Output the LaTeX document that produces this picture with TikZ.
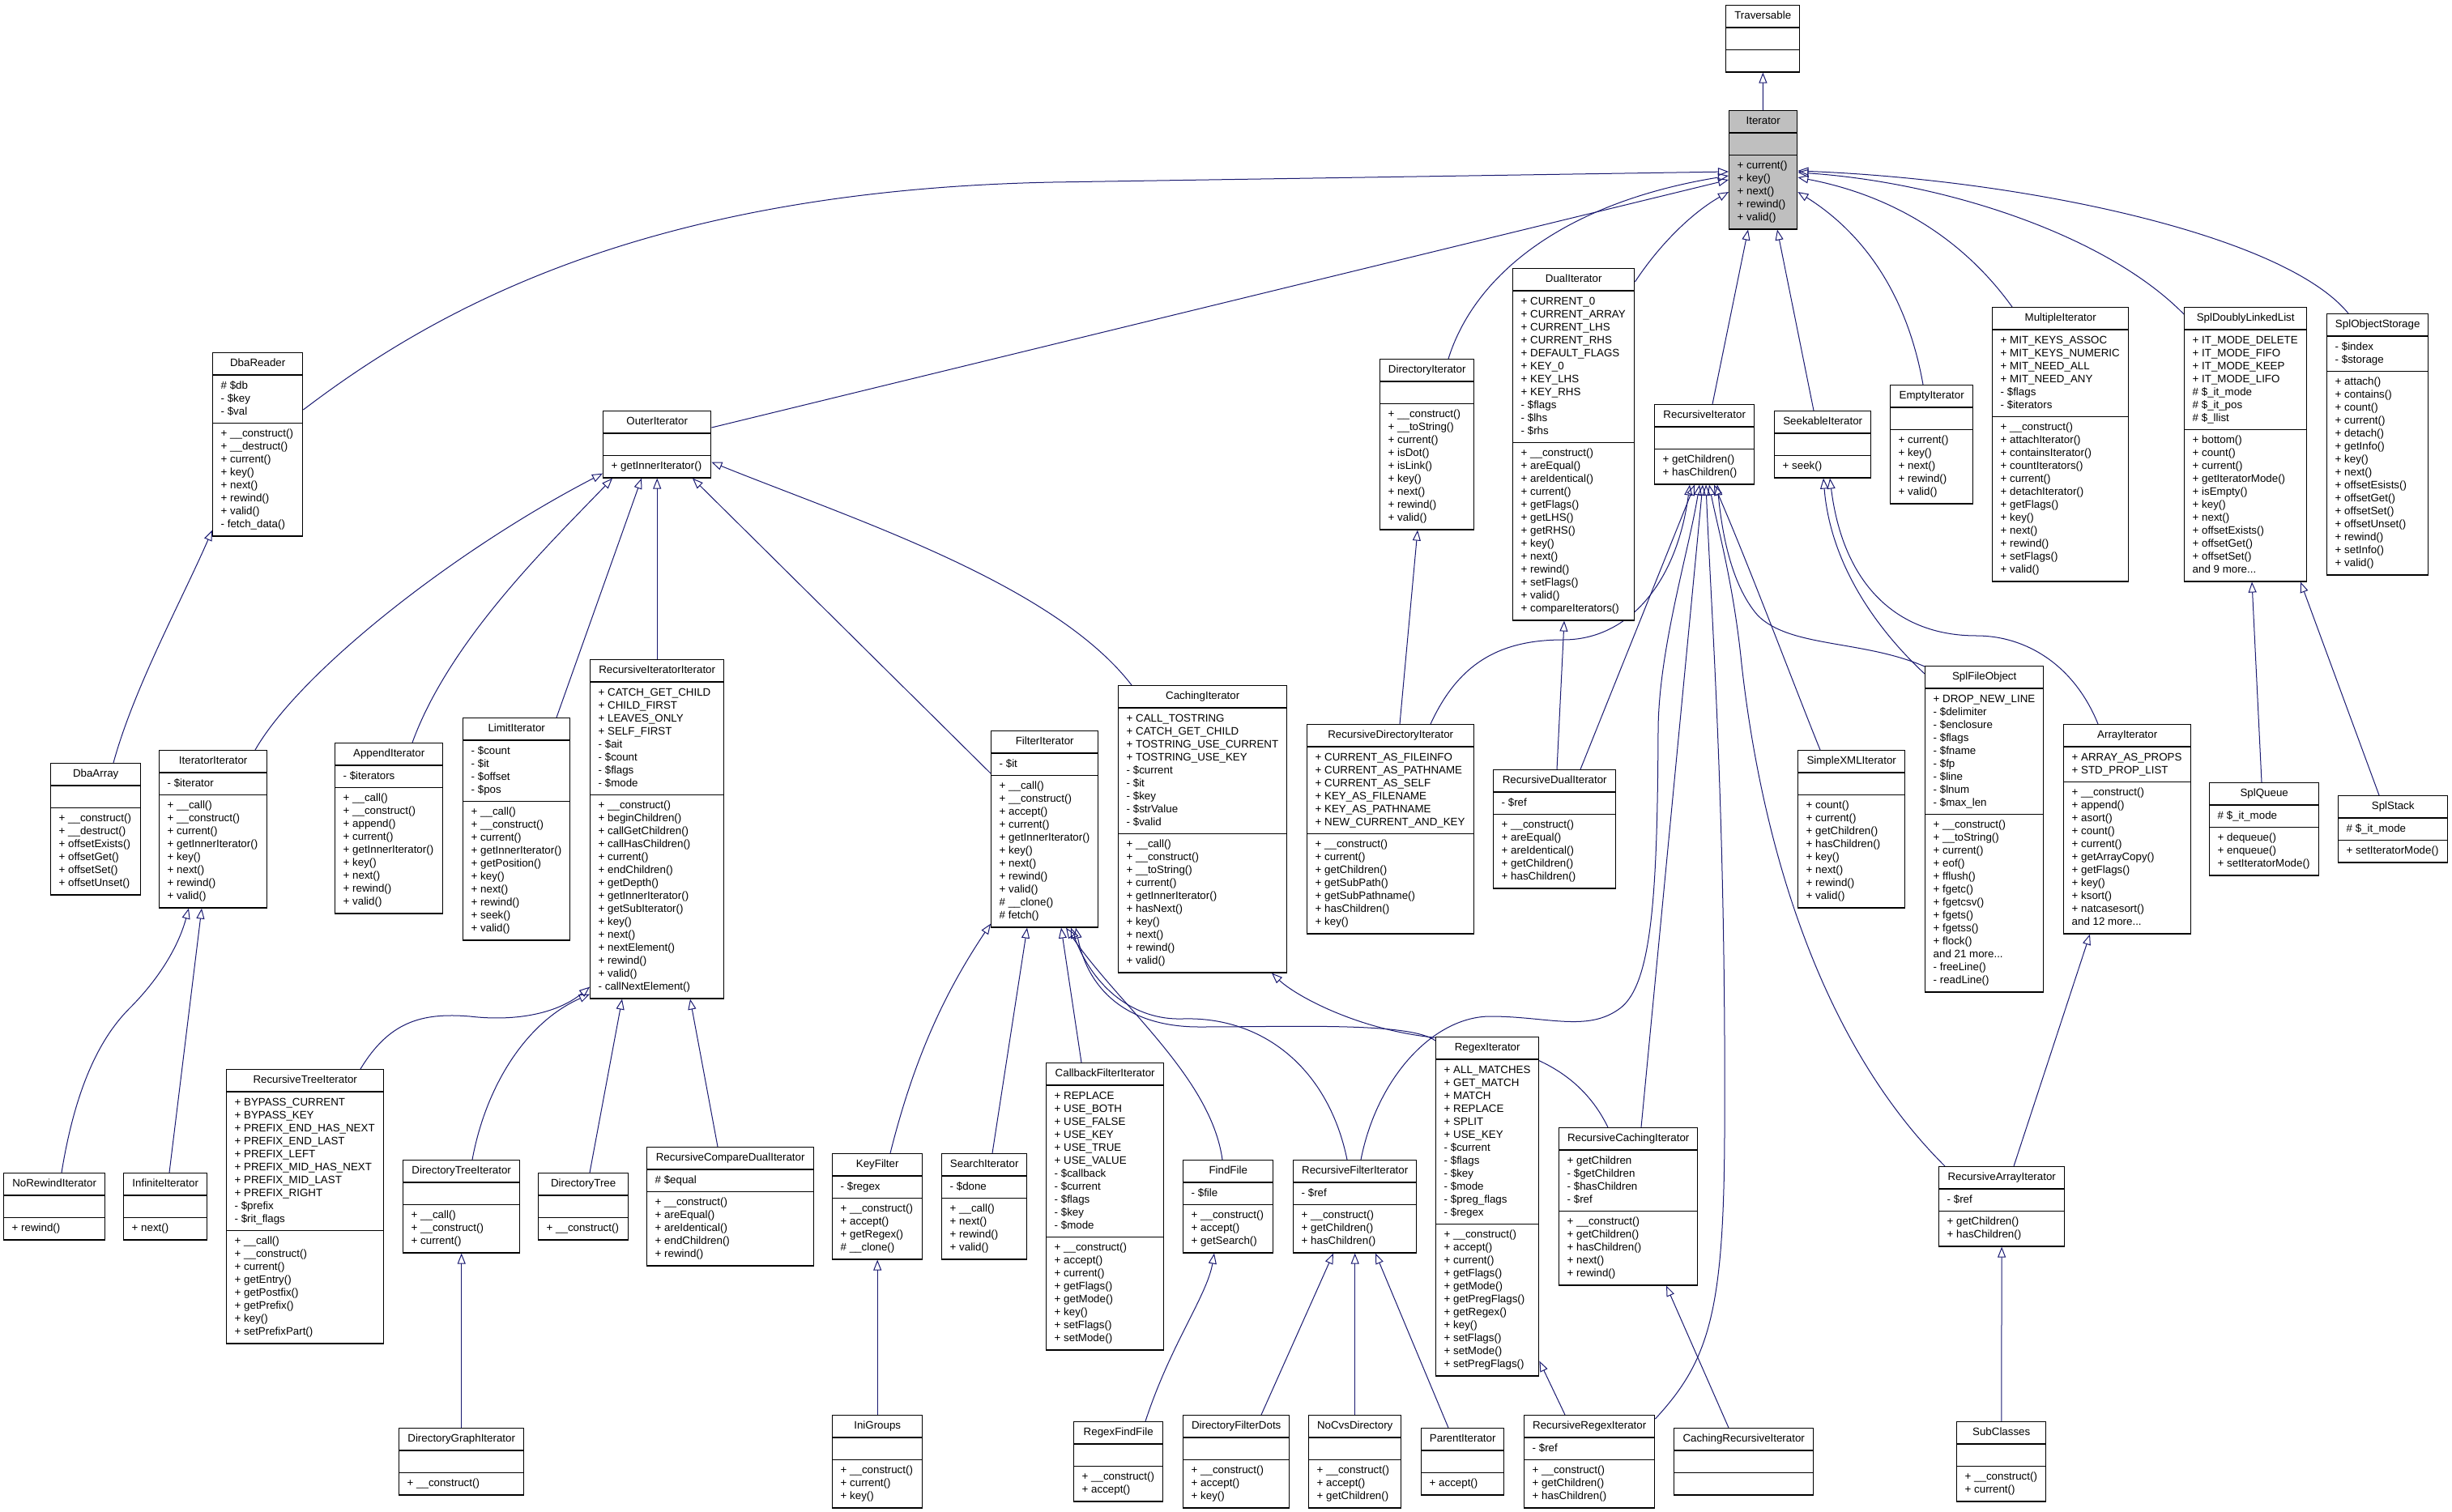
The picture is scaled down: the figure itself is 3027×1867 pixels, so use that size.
\documentclass[tikz,border=0pt]{standalone}
\usepackage{fontspec}
\setmainfont{Liberation Sans}
\usetikzlibrary{shapes.multipart,arrows.meta}

\definecolor{edgeBlue}{HTML}{191970}
\definecolor{focusGray}{HTML}{BFBFBF}

\pgfdeclarelayer{background}
\pgfsetlayers{background,main}

\tikzset{
  cls/.style={rectangle split, rectangle split parts=3, draw=black, line width=1.4pt,
    fill=white, anchor=north west, inner xsep=10pt, inner ysep=5pt, align=left,
    rectangle split part align={center,left,left}, font=\fontsize{13.33}{16}\selectfont},
  isa/.style={draw=edgeBlue, line width=1pt, -{Triangle[open,length=13pt,width=10pt]}},
}

\begin{document}
\begin{tikzpicture}[x=1pt,y=-1pt]
\useasboundingbox (0,0) rectangle (3027,1867);

% Radice
\node[cls, minimum width=91pt] (traversable) at (2130,6) {\strut Traversable\nodepart{two}\strut\nodepart{three}\strut};
\node[cls, fill=focusGray, minimum width=84pt] (iterator) at (2134,136) {\strut Iterator\nodepart{two}\strut\nodepart{three}\strut + current()\\+ key()\\+ next()\\+ rewind()\\+ valid()\strut};

% Livello 1
\node[cls, minimum width=111pt] (dbareader) at (262,435) {\strut DbaReader\nodepart{two}\strut\# \$db\\- \$key\\- \$val\strut\nodepart{three}\strut + \_\_construct()\\+ \_\_destruct()\\+ current()\\+ key()\\+ next()\\+ rewind()\\+ valid()\\- fetch\_data()\strut};
\node[cls, minimum width=133pt] (outeriterator) at (744,507) {\strut OuterIterator\nodepart{two}\strut\nodepart{three}\strut + getInnerIterator()\strut};
\node[cls, minimum width=116pt] (directoryiterator) at (1703,443) {\strut DirectoryIterator\nodepart{two}\strut\nodepart{three}\strut + \_\_construct()\\+ \_\_toString()\\+ current()\\+ isDot()\\+ isLink()\\+ key()\\+ next()\\+ rewind()\\+ valid()\strut};
\node[cls, minimum width=150pt] (dualiterator) at (1867,331) {\strut DualIterator\nodepart{two}\strut + CURRENT\_0\\+ CURRENT\_ARRAY\\+ CURRENT\_LHS\\+ CURRENT\_RHS\\+ DEFAULT\_FLAGS\\+ KEY\_0\\+ KEY\_LHS\\+ KEY\_RHS\\- \$flags\\- \$lhs\\- \$rhs\strut\nodepart{three}\strut + \_\_construct()\\+ areEqual()\\+ areIdentical()\\+ current()\\+ getFlags()\\+ getLHS()\\+ getRHS()\\+ key()\\+ next()\\+ rewind()\\+ setFlags()\\+ valid()\\+ compareIterators()\strut};
\node[cls, minimum width=123pt] (recursiveiterator) at (2042,499) {\strut RecursiveIterator\nodepart{two}\strut\nodepart{three}\strut + getChildren()\\+ hasChildren()\strut};
\node[cls, minimum width=119pt] (seekableiterator) at (2190,507) {\strut SeekableIterator\nodepart{two}\strut\nodepart{three}\strut + seek()\strut};
\node[cls, minimum width=102pt] (emptyiterator) at (2333,475) {\strut EmptyIterator\nodepart{two}\strut\nodepart{three}\strut + current()\\+ key()\\+ next()\\+ rewind()\\+ valid()\strut};
\node[cls, minimum width=168pt] (multipleiterator) at (2459,379) {\strut MultipleIterator\nodepart{two}\strut + MIT\_KEYS\_ASSOC\\+ MIT\_KEYS\_NUMERIC\\+ MIT\_NEED\_ALL\\+ MIT\_NEED\_ANY\\- \$flags\\- \$iterators\strut\nodepart{three}\strut + \_\_construct()\\+ attachIterator()\\+ containsIterator()\\+ countIterators()\\+ current()\\+ detachIterator()\\+ getFlags()\\+ key()\\+ next()\\+ rewind()\\+ setFlags()\\+ valid()\strut};
\node[cls, minimum width=151pt] (spldoublylinkedlist) at (2696,379) {\strut SplDoublyLinkedList\nodepart{two}\strut + IT\_MODE\_DELETE\\+ IT\_MODE\_FIFO\\+ IT\_MODE\_KEEP\\+ IT\_MODE\_LIFO\\\# \$\_it\_mode\\\# \$\_it\_pos\\\# \$\_llist\strut\nodepart{three}\strut + bottom()\\+ count()\\+ current()\\+ getIteratorMode()\\+ isEmpty()\\+ key()\\+ next()\\+ offsetExists()\\+ offsetGet()\\+ offsetSet()\\and 9 more...\strut};
\node[cls, minimum width=125pt] (splobjectstorage) at (2872,387) {\strut SplObjectStorage\nodepart{two}\strut - \$index\\- \$storage\strut\nodepart{three}\strut + attach()\\+ contains()\\+ count()\\+ current()\\+ detach()\\+ getInfo()\\+ key()\\+ next()\\+ offsetEsists()\\+ offsetGet()\\+ offsetSet()\\+ offsetUnset()\\+ rewind()\\+ setInfo()\\+ valid()\strut};

% Livello 2
\node[cls, minimum width=111pt] (dbaarray) at (62,942) {\strut DbaArray\nodepart{two}\strut\nodepart{three}\strut + \_\_construct()\\+ \_\_destruct()\\+ offsetExists()\\+ offsetGet()\\+ offsetSet()\\+ offsetUnset()\strut};
\node[cls, minimum width=133pt] (iteratoriterator) at (196,926) {\strut IteratorIterator\nodepart{two}\strut - \$iterator\strut\nodepart{three}\strut + \_\_call()\\+ \_\_construct()\\+ current()\\+ getInnerIterator()\\+ key()\\+ next()\\+ rewind()\\+ valid()\strut};
\node[cls, minimum width=133pt] (appenditerator) at (413,917) {\strut AppendIterator\nodepart{two}\strut - \$iterators\strut\nodepart{three}\strut + \_\_call()\\+ \_\_construct()\\+ append()\\+ current()\\+ getInnerIterator()\\+ key()\\+ next()\\+ rewind()\\+ valid()\strut};
\node[cls, minimum width=132pt] (limititerator) at (571,886) {\strut LimitIterator\nodepart{two}\strut - \$count\\- \$it\\- \$offset\\- \$pos\strut\nodepart{three}\strut + \_\_call()\\+ \_\_construct()\\+ current()\\+ getInnerIterator()\\+ getPosition()\\+ key()\\+ next()\\+ rewind()\\+ seek()\\+ valid()\strut};
\node[cls, minimum width=165pt] (recursiveiteratoriterator) at (728,814) {\strut RecursiveIteratorIterator\nodepart{two}\strut + CATCH\_GET\_CHILD\\+ CHILD\_FIRST\\+ LEAVES\_ONLY\\+ SELF\_FIRST\\- \$ait\\- \$count\\- \$flags\\- \$mode\strut\nodepart{three}\strut + \_\_construct()\\+ beginChildren()\\+ callGetChildren()\\+ callHasChildren()\\+ current()\\+ endChildren()\\+ getDepth()\\+ getInnerIterator()\\+ getSubIterator()\\+ key()\\+ next()\\+ nextElement()\\+ rewind()\\+ valid()\\- callNextElement()\strut};
\node[cls, minimum width=132pt] (filteriterator) at (1223,902) {\strut FilterIterator\nodepart{two}\strut - \$it\strut\nodepart{three}\strut + \_\_call()\\+ \_\_construct()\\+ accept()\\+ current()\\+ getInnerIterator()\\+ key()\\+ next()\\+ rewind()\\+ valid()\\\# \_\_clone()\\\# fetch()\strut};
\node[cls, minimum width=208pt] (cachingiterator) at (1380,846) {\strut CachingIterator\nodepart{two}\strut + CALL\_TOSTRING\\+ CATCH\_GET\_CHILD\\+ TOSTRING\_USE\_CURRENT\\+ TOSTRING\_USE\_KEY\\- \$current\\- \$it\\- \$key\\- \$strValue\\- \$valid\strut\nodepart{three}\strut + \_\_call()\\+ \_\_construct()\\+ \_\_toString()\\+ current()\\+ getInnerIterator()\\+ hasNext()\\+ key()\\+ next()\\+ rewind()\\+ valid()\strut};
\node[cls, minimum width=206pt] (recursivedirectoryiterator) at (1613,894) {\strut RecursiveDirectoryIterator\nodepart{two}\strut + CURRENT\_AS\_FILEINFO\\+ CURRENT\_AS\_PATHNAME\\+ CURRENT\_AS\_SELF\\+ KEY\_AS\_FILENAME\\+ KEY\_AS\_PATHNAME\\+ NEW\_CURRENT\_AND\_KEY\strut\nodepart{three}\strut + \_\_construct()\\+ current()\\+ getChildren()\\+ getSubPath()\\+ getSubPathname()\\+ hasChildren()\\+ key()\strut};
\node[cls, minimum width=151pt] (recursivedualiterator) at (1843,950) {\strut RecursiveDualIterator\nodepart{two}\strut - \$ref\strut\nodepart{three}\strut + \_\_construct()\\+ areEqual()\\+ areIdentical()\\+ getChildren()\\+ hasChildren()\strut};
\node[cls, minimum width=132pt] (simplexmliterator) at (2219,926) {\strut SimpleXMLIterator\nodepart{two}\strut\nodepart{three}\strut + count()\\+ current()\\+ getChildren()\\+ hasChildren()\\+ key()\\+ next()\\+ rewind()\\+ valid()\strut};
\node[cls, minimum width=146pt] (splfileobject) at (2376,822) {\strut SplFileObject\nodepart{two}\strut + DROP\_NEW\_LINE\\- \$delimiter\\- \$enclosure\\- \$flags\\- \$fname\\- \$fp\\- \$line\\- \$lnum\\- \$max\_len\strut\nodepart{three}\strut + \_\_construct()\\+ \_\_toString()\\+ current()\\+ eof()\\+ fflush()\\+ fgetc()\\+ fgetcsv()\\+ fgets()\\+ fgetss()\\+ flock()\\and 21 more...\\- freeLine()\\- readLine()\strut};
\node[cls, minimum width=157pt] (arrayiterator) at (2547,894) {\strut ArrayIterator\nodepart{two}\strut + ARRAY\_AS\_PROPS\\+ STD\_PROP\_LIST\strut\nodepart{three}\strut + \_\_construct()\\+ append()\\+ asort()\\+ count()\\+ current()\\+ getArrayCopy()\\+ getFlags()\\+ key()\\+ ksort()\\+ natcasesort()\\and 12 more...\strut};
\node[cls, minimum width=135pt] (splqueue) at (2727,966) {\strut SplQueue\nodepart{two}\strut\# \$\_it\_mode\strut\nodepart{three}\strut + dequeue()\\+ enqueue()\\+ setIteratorMode()\strut};
\node[cls, minimum width=135pt] (splstack) at (2886,982) {\strut SplStack\nodepart{two}\strut\# \$\_it\_mode\strut\nodepart{three}\strut + setIteratorMode()\strut};

% Livello 3
\node[cls, minimum width=125pt] (norewinditerator) at (4,1448) {\strut NoRewindIterator\nodepart{two}\strut\nodepart{three}\strut + rewind()\strut};
\node[cls, minimum width=103pt] (infiniteiterator) at (152,1448) {\strut InfiniteIterator\nodepart{two}\strut\nodepart{three}\strut + next()\strut};
\node[cls, minimum width=194pt] (recursivetreeiterator) at (279,1320) {\strut RecursiveTreeIterator\nodepart{two}\strut + BYPASS\_CURRENT\\+ BYPASS\_KEY\\+ PREFIX\_END\_HAS\_NEXT\\+ PREFIX\_END\_LAST\\+ PREFIX\_LEFT\\+ PREFIX\_MID\_HAS\_NEXT\\+ PREFIX\_MID\_LAST\\+ PREFIX\_RIGHT\\- \$prefix\\- \$rit\_flags\strut\nodepart{three}\strut + \_\_call()\\+ \_\_construct()\\+ current()\\+ getEntry()\\+ getPostfix()\\+ getPrefix()\\+ key()\\+ setPrefixPart()\strut};
\node[cls, minimum width=144pt] (directorytreeiterator) at (497,1432) {\strut DirectoryTreeIterator\nodepart{two}\strut\nodepart{three}\strut + \_\_call()\\+ \_\_construct()\\+ current()\strut};
\node[cls, minimum width=111pt] (directorytree) at (664,1448) {\strut DirectoryTree\nodepart{two}\strut\nodepart{three}\strut + \_\_construct()\strut};
\node[cls, minimum width=206pt] (recursivecomparedualiterator) at (798,1416) {\strut RecursiveCompareDualIterator\nodepart{two}\strut\# \$equal\strut\nodepart{three}\strut + \_\_construct()\\+ areEqual()\\+ areIdentical()\\+ endChildren()\\+ rewind()\strut};
\node[cls, minimum width=111pt] (keyfilter) at (1027,1424) {\strut KeyFilter\nodepart{two}\strut - \$regex\strut\nodepart{three}\strut + \_\_construct()\\+ accept()\\+ getRegex()\\\# \_\_clone()\strut};
\node[cls, minimum width=105pt] (searchiterator) at (1162,1424) {\strut SearchIterator\nodepart{two}\strut - \$done\strut\nodepart{three}\strut + \_\_call()\\+ next()\\+ rewind()\\+ valid()\strut};
\node[cls, minimum width=145pt] (callbackfilteriterator) at (1291,1312) {\strut CallbackFilterIterator\nodepart{two}\strut + REPLACE\\+ USE\_BOTH\\+ USE\_FALSE\\+ USE\_KEY\\+ USE\_TRUE\\+ USE\_VALUE\\- \$callback\\- \$current\\- \$flags\\- \$key\\- \$mode\strut\nodepart{three}\strut + \_\_construct()\\+ accept()\\+ current()\\+ getFlags()\\+ getMode()\\+ key()\\+ setFlags()\\+ setMode()\strut};
\node[cls, minimum width=111pt] (findfile) at (1460,1432) {\strut FindFile\nodepart{two}\strut - \$file\strut\nodepart{three}\strut + \_\_construct()\\+ accept()\\+ getSearch()\strut};
\node[cls, minimum width=152pt] (recursivefilteriterator) at (1596,1432) {\strut RecursiveFilterIterator\nodepart{two}\strut - \$ref\strut\nodepart{three}\strut + \_\_construct()\\+ getChildren()\\+ hasChildren()\strut};
\node[cls, minimum width=127pt] (regexiterator) at (1772,1280) {\strut RegexIterator\nodepart{two}\strut + ALL\_MATCHES\\+ GET\_MATCH\\+ MATCH\\+ REPLACE\\+ SPLIT\\+ USE\_KEY\\- \$current\\- \$flags\\- \$key\\- \$mode\\- \$preg\_flags\\- \$regex\strut\nodepart{three}\strut + \_\_construct()\\+ accept()\\+ current()\\+ getFlags()\\+ getMode()\\+ getPregFlags()\\+ getRegex()\\+ key()\\+ setFlags()\\+ setMode()\\+ setPregFlags()\strut};
\node[cls, minimum width=171pt] (recursivecachingiterator) at (1924,1392) {\strut RecursiveCachingIterator\nodepart{two}\strut + getChildren\\- \$getChildren\\- \$hasChildren\\- \$ref\strut\nodepart{three}\strut + \_\_construct()\\+ getChildren()\\+ hasChildren()\\+ next()\\+ rewind()\strut};
\node[cls, minimum width=155pt] (recursivearrayiterator) at (2393,1440) {\strut RecursiveArrayIterator\nodepart{two}\strut - \$ref\strut\nodepart{three}\strut + getChildren()\\+ hasChildren()\strut};

% Livello 4
\node[cls, minimum width=154pt] (directorygraphiterator) at (492,1763) {\strut DirectoryGraphIterator\nodepart{two}\strut\nodepart{three}\strut + \_\_construct()\strut};
\node[cls, minimum width=111pt] (inigroups) at (1027,1747) {\strut IniGroups\nodepart{two}\strut\nodepart{three}\strut + \_\_construct()\\+ current()\\+ key()\strut};
\node[cls, minimum width=110pt] (regexfindfile) at (1325,1755) {\strut RegexFindFile\nodepart{two}\strut\nodepart{three}\strut + \_\_construct()\\+ accept()\strut};
\node[cls, minimum width=131pt] (directoryfilterdots) at (1460,1747) {\strut DirectoryFilterDots\nodepart{two}\strut\nodepart{three}\strut + \_\_construct()\\+ accept()\\+ key()\strut};
\node[cls, minimum width=114pt] (nocvsdirectory) at (1615,1747) {\strut NoCvsDirectory\nodepart{two}\strut\nodepart{three}\strut + \_\_construct()\\+ accept()\\+ getChildren()\strut};
\node[cls, minimum width=102pt] (parentiterator) at (1754,1763) {\strut ParentIterator\nodepart{two}\strut\nodepart{three}\strut + accept()\strut};
\node[cls, minimum width=161pt] (recursiveregexiterator) at (1881,1747) {\strut RecursiveRegexIterator\nodepart{two}\strut - \$ref\strut\nodepart{three}\strut + \_\_construct()\\+ getChildren()\\+ hasChildren()\strut};
\node[cls, minimum width=172pt] (cachingrecursiveiterator) at (2066,1763) {\strut CachingRecursiveIterator\nodepart{two}\strut\nodepart{three}\strut};
\node[cls, minimum width=110pt] (subclasses) at (2415,1755) {\strut SubClasses\nodepart{two}\strut\nodepart{three}\strut + \_\_construct()\\+ current()\strut};

\begin{pgfonlayer}{background}
% Ereditarieta verso Iterator
\draw[isa] (iterator) -- (traversable);
\draw[isa] ([yshift=-71pt]dbareader.north east) .. controls (540,380) and (800,235) .. (1300,225) -- ([yshift=-76pt]iterator.north west);
\draw[isa] ([yshift=-21pt]outeriterator.north east) -- ([yshift=-86pt]iterator.north west);
\draw[isa] ([xshift=85pt]directoryiterator.north west) .. controls (1820,340) and (1930,250) .. ([yshift=-81pt]iterator.north west);
\draw[isa] ([yshift=-17pt]dualiterator.north east) .. controls (2050,300) and (2090,262) .. ([yshift=-101pt]iterator.north west);
\draw[isa] ([xshift=72pt]recursiveiterator.north west) -- ([xshift=24pt]iterator.south west);
\draw[isa] ([xshift=49pt]seekableiterator.north west) -- ([xshift=60pt]iterator.south west);
\draw[isa] ([xshift=41pt]emptyiterator.north west) .. controls (2350,340) and (2280,275) .. ([yshift=-101pt]iterator.north east);
\draw[isa] ([xshift=25pt]multipleiterator.north west) .. controls (2420,290) and (2330,240) .. ([yshift=-83pt]iterator.north east);
\draw[isa] ([yshift=-9pt]spldoublylinkedlist.north west) .. controls (2600,290) and (2400,225) .. ([yshift=-77pt]iterator.north east);
\draw[isa] ([xshift=27pt]splobjectstorage.north west) .. controls (2820,290) and (2500,222) .. ([yshift=-75pt]iterator.north east);

% DbaReader e OuterIterator
\draw[isa] ([xshift=78pt]dbaarray.north west) .. controls (165,850) and (225,740) .. ([yshift=8pt]dbareader.south west);
\draw[isa] ([xshift=119pt]iteratoriterator.north west) .. controls (370,830) and (560,680) .. ([yshift=6pt]outeriterator.south west);
\draw[isa] ([xshift=96pt]appenditerator.north west) .. controls (555,790) and (680,670) .. ([xshift=12pt]outeriterator.south west);
\draw[isa] ([xshift=116pt]limititerator.north west) -- ([xshift=48pt]outeriterator.south west);
\draw[isa] (recursiveiteratoriterator) -- (outeriterator);
\draw[isa] ([yshift=-53pt]filteriterator.north west) -- ([xshift=111pt]outeriterator.south west);
\draw[isa] ([xshift=17pt]cachingiterator.north west) .. controls (1300,720) and (1050,640) .. ([yshift=20pt]outeriterator.south east);

% IteratorIterator e RecursiveIteratorIterator
\draw[isa] ([xshift=72pt]norewinditerator.north west) .. controls (95,1330) and (130,1275) .. (160,1245) .. controls (195,1210) and (220,1170) .. ([xshift=37pt]iteratoriterator.south west);
\draw[isa] ([xshift=57pt]infiniteiterator.north west) -- ([xshift=53pt]iteratoriterator.south west);
\draw[isa] ([xshift=166pt]recursivetreeiterator.north west) .. controls (480,1262) and (520,1250) .. (580,1255) .. controls (640,1262) and (690,1250) .. ([yshift=15pt]recursiveiteratoriterator.south west);
\draw[isa] ([xshift=86pt]directorytreeiterator.north west) .. controls (600,1340) and (650,1262) .. ([yshift=6pt]recursiveiteratoriterator.south west);
\draw[isa] ([xshift=64pt]directorytree.north west) -- ([xshift=40pt]recursiveiteratoriterator.south west);
\draw[isa] ([xshift=88pt]recursivecomparedualiterator.north west) -- ([xshift=124pt]recursiveiteratoriterator.south west);
\draw[isa] (directorygraphiterator) -- (directorytreeiterator);

% FilterIterator
\draw[isa] ([xshift=72pt]keyfilter.north west) .. controls (1130,1300) and (1170,1220) .. ([yshift=5pt]filteriterator.south west);
\draw[isa] ([xshift=63pt]searchiterator.north west) -- ([xshift=45pt]filteriterator.south west);
\draw[isa] ([xshift=44pt]callbackfilteriterator.north west) -- ([xshift=87pt]filteriterator.south west);
\draw[isa] ([xshift=49pt]findfile.north west) .. controls (1495,1330) and (1380,1240) .. ([xshift=93pt]filteriterator.south west);
\draw[isa] ([xshift=67pt]recursivefilteriterator.north west) .. controls (1640,1320) and (1560,1255) .. (1460,1258) .. controls (1400,1260) and (1350,1220) .. ([xshift=99pt]filteriterator.south west);
\draw[isa] ([yshift=-5pt]regexiterator.north west) .. controls (1740,1262) and (1600,1268) .. (1480,1268) .. controls (1400,1268) and (1345,1230) .. ([xshift=105pt]filteriterator.south west);
\draw[isa] (inigroups) -- (keyfilter);
\draw[isa] ([xshift=89pt]regexfindfile.north west) .. controls (1445,1660) and (1490,1600) .. ([xshift=39pt]findfile.south west);
\draw[isa] ([xshift=97pt]directoryfilterdots.north west) -- ([xshift=50pt]recursivefilteriterator.south west);
\draw[isa] (nocvsdirectory) -- (recursivefilteriterator);
\draw[isa] ([xshift=34pt]parentiterator.north west) -- ([xshift=102pt]recursivefilteriterator.south west);
\draw[isa] ([xshift=51pt]recursiveregexiterator.north west) -- ([yshift=19pt]regexiterator.south east);

% CachingIterator
\draw[isa] ([xshift=61pt]recursivecachingiterator.north west) .. controls (1950,1320) and (1880,1290) .. (1780,1282) .. controls (1680,1274) and (1600,1230) .. ([xshift=190pt]cachingiterator.south west);
\draw[isa] ([xshift=68pt]cachingrecursiveiterator.north west) -- ([xshift=133pt]recursivecachingiterator.south west);

% DirectoryIterator e DualIterator
\draw[isa] ([xshift=115pt]recursivedirectoryiterator.north west) -- ([xshift=47pt]directoryiterator.south west);
\draw[isa] ([xshift=79pt]recursivedualiterator.north west) -- ([xshift=64pt]dualiterator.south west);

% RecursiveIterator
\draw[isa] ([xshift=153pt]recursivedirectoryiterator.north west) .. controls (1800,820) and (1850,790) .. (1930,790) .. controls (2010,790) and (2070,720) .. ([xshift=44pt]recursiveiterator.south west);
\draw[isa] ([xshift=108pt]recursivedualiterator.north west) -- ([xshift=50pt]recursiveiterator.south west);
\draw[isa] ([xshift=84pt]recursivefilteriterator.north west) .. controls (1700,1330) and (1770,1255) .. (1840,1255) .. controls (1910,1255) and (1960,1275) .. (2000,1245) .. controls (2040,1215) and (2046,1100) .. (2047,900) .. controls (2048,800) and (2085,680) .. ([xshift=56pt]recursiveiterator.south west);
\draw[isa] ([xshift=102pt]recursivecachingiterator.north west) -- ([xshift=60pt]recursiveiterator.south west);
\draw[isa] ([yshift=-5pt]recursiveregexiterator.north east) .. controls (2110,1680) and (2128,1620) .. (2129,1400) .. controls (2131,1000) and (2112,750) .. ([xshift=64pt]recursiveiterator.south west);
\draw[isa] ([xshift=8pt]recursivearrayiterator.north west) .. controls (2230,1270) and (2170,1000) .. (2150,820) .. controls (2140,720) and (2120,650) .. ([xshift=68pt]recursiveiterator.south west);
\draw[isa] ([xshift=28pt]simplexmliterator.north west) .. controls (2220,860) and (2160,700) .. ([xshift=74pt]recursiveiterator.south west);
\draw[isa] ([yshift=-1pt]splfileobject.north west) .. controls (2300,790) and (2210,800) .. (2170,760) .. controls (2135,720) and (2125,650) .. ([xshift=78pt]recursiveiterator.south west);

% SeekableIterator, ArrayIterator, SplDoublyLinkedList
\draw[isa] ([yshift=-10pt]splfileobject.north west) .. controls (2320,780) and (2260,700) .. ([xshift=61pt]seekableiterator.south west);
\draw[isa] ([xshift=43pt]arrayiterator.north west) .. controls (2560,820) and (2500,785) .. (2440,785) .. controls (2340,785) and (2275,720) .. ([xshift=69pt]seekableiterator.south west);
\draw[isa] ([xshift=93pt]recursivearrayiterator.north west) -- ([xshift=33pt]arrayiterator.south west);
\draw[isa] (subclasses) -- (recursivearrayiterator);
\draw[isa] ([xshift=65pt]splqueue.north west) -- ([xshift=84pt]spldoublylinkedlist.south west);
\draw[isa] ([xshift=51pt]splstack.north west) -- ([xshift=144pt]spldoublylinkedlist.south west);
\end{pgfonlayer}

\end{tikzpicture}
\end{document}
